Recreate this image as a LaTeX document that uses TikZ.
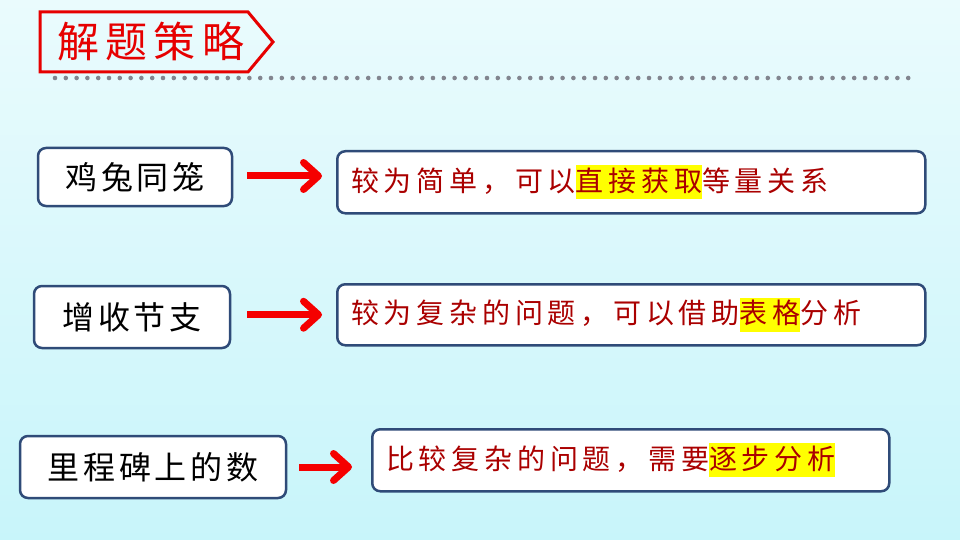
\documentclass[tikz,border=0pt]{standalone}
\usepackage{fontspec}
\usetikzlibrary{arrows.meta}
\newfontfamily\ttlfont[LetterSpace=15]{Noto Sans CJK SC}
\newfontfamily\lftfont[LetterSpace=12]{Noto Sans CJK SC}
\newfontfamily\rgtfont[LetterSpace=17]{Noto Sans CJK SC}
\definecolor{bordercol}{RGB}{47,75,120}
\definecolor{txtred}{RGB}{170,0,0}
\definecolor{hlyellow}{RGB}{255,255,0}
\definecolor{titlered}{RGB}{230,0,0}
\definecolor{dotgray}{RGB}{130,133,143}
\definecolor{arrowred}{RGB}{245,0,0}
\definecolor{bgtop}{RGB}{234,251,253}
\definecolor{bgbot}{RGB}{200,245,250}
\newcommand{\hlt}[1]{{\setlength\fboxsep{0pt}\colorbox{hlyellow}{\rule[-0.27em]{0pt}{1.2em}#1}}}
\tikzset{
  leftbox/.style={draw=bordercol, line width=2.5pt, rounded corners=8pt, fill=white,
    inner sep=0pt, font=\lftfont\fontsize{32}{36}\selectfont, text=black},
  rightbox/.style={draw=bordercol, line width=2.5pt, rounded corners=8pt, fill=white,
    anchor=north west, inner xsep=14pt, inner ysep=0pt, align=left,
    font=\rgtfont\fontsize{28}{32}\selectfont, text=txtred},
  redarrow/.style={draw=arrowred, line width=7pt,
    -{Straight Barb[length=15pt,width=27pt,round]}},
}
\begin{document}
\begin{tikzpicture}[x=1pt,y=-1pt]
\shade[top color=bgtop, bottom color=bgbot] (0,0) rectangle (960,540);
\useasboundingbox (0,0) rectangle (960,540);
% title
\draw[titlered, line width=3pt, line join=miter] (40,12) -- (248,12) -- (273,42) -- (248,72) -- (40,72) -- cycle;
\node[text=titlered, font=\ttlfont\fontsize{42}{46}\selectfont, inner sep=0pt, anchor=west] (title) at (57,42) {解题策略};
% dotted line
\foreach \i in {0,...,79} \fill[dotgray] (55+\i*10.8,78) circle (2.3);
% left boxes
\node[leftbox, minimum width=194pt, minimum height=58pt] (l1) at (135,177) {鸡兔同笼};
\node[leftbox, minimum width=196pt, minimum height=62pt] (l2) at (132,317) {增收节支};
\node[leftbox, minimum width=266pt, minimum height=62pt] (l3) at (153,467) {里程碑上的数};
% right boxes
\node[rightbox, text width=560pt, minimum height=62pt] (r1) at (336,150) {较为简单，可以\hlt{直接获取}等量关系};
\node[rightbox, text width=560pt, minimum height=61pt] (r2) at (336,283) {较为复杂的问题，可以借助\hlt{表格}分析};
\node[rightbox, text width=489pt, minimum height=62pt] (r3) at (371,428) {比较复杂的问题，需要\hlt{逐步分析}};
% arrows
\draw[redarrow, shorten <=14pt, shorten >=14pt] ([yshift=1pt]l1.east) -- ([yshift=1pt]l1.east -| r1.west);
\draw[redarrow, shorten <=16pt, shorten >=14pt] (r2.west -| l2.east) -- (r2.west);
\draw[redarrow, shorten <=12pt, shorten >=19pt] (l3.east) -- (l3.east -| r3.west);
\end{tikzpicture}
\end{document}
